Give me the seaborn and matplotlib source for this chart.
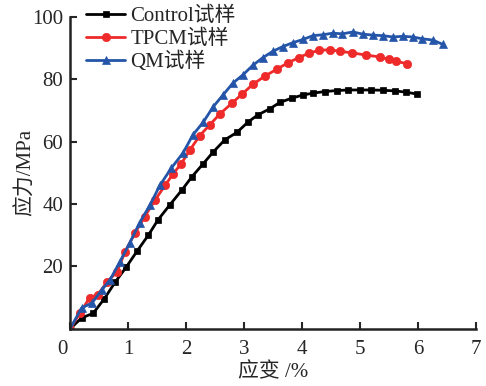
import matplotlib
matplotlib.use("Agg")
import matplotlib.pyplot as plt
import matplotlib.transforms as mtransforms
import seaborn as sns
import pandas as pd

control_x = [0, 0.2, 0.4, 0.59, 0.78, 0.97, 1.16, 1.35, 1.52, 1.72, 1.93, 2.1, 2.3, 2.47, 2.67, 2.88,
             3.07, 3.24, 3.45, 3.62, 3.83, 4.02, 4.2, 4.4, 4.6, 4.8, 5.0, 5.2, 5.4, 5.6, 5.8, 5.98]
control_y = [0, 3.5, 5, 9.6, 15, 19.8, 25, 30, 35, 39.7, 44.5, 48.7, 53, 56.7, 60.6, 63,
             66.3, 68.6, 70.6, 72.6, 74, 75, 75.6, 76.1, 76.4, 76.6, 76.6, 76.6, 76.5, 76.3, 75.9, 75.3]

tpcm_x = [0, 0.17, 0.34, 0.48, 0.64, 0.81, 0.95, 1.12, 1.29, 1.47, 1.64, 1.77, 1.92, 2.07, 2.24, 2.41,
          2.59, 2.79, 2.97, 3.16, 3.36, 3.57, 3.76, 3.95, 4.12, 4.3, 4.48, 4.65, 4.87, 5.1, 5.34, 5.5,
          5.63, 5.81]
tpcm_y = [0, 5, 10, 11, 15, 18.3, 24.7, 30.7, 36, 41.4, 46, 49.5, 53, 57.4, 62, 65.4,
          69, 72.3, 75.3, 78.5, 81, 83.3, 85.3, 87, 88.4, 89.3, 89.5, 89, 88.5, 87.8, 87.2, 86.4,
          85.8, 85.0]

qm_x = [0, 0.2, 0.38, 0.55, 0.69, 0.86, 1.03, 1.2, 1.38, 1.55, 1.75, 1.95, 2.12, 2.3, 2.47, 2.64,
        2.81, 2.98, 3.16, 3.33, 3.5, 3.67, 3.85, 4.02, 4.19, 4.36, 4.53, 4.7, 4.88, 5.05, 5.22, 5.4,
        5.57, 5.74, 5.91, 6.08, 6.26, 6.43]
qm_y = [0, 6.7, 8.3, 12.5, 15.7, 21.5, 27.5, 34, 39.7, 46, 51.6, 56.4, 62.2, 66.3, 71.2, 75,
        78.8, 81.4, 84.6, 87, 89, 90.5, 91.8, 92.8, 94, 94.3, 94.8, 94.6, 95.2, 94.5, 94.2, 94,
        93.6, 93.8, 93.6, 93.0, 92.6, 91.2]

labels = ["Control试样", "TPCM试样", "QM试样"]
x_ticks = [0, 1, 2, 3, 4, 5, 6, 7]
y_ticks = [20, 40, 60, 80, 100]

sns.set_style("ticks")
plt.rcParams['font.family'] = ['Liberation Serif', 'Noto Sans CJK SC']

fig = plt.figure(figsize=(4.86, 3.86), dpi=100)
ax = fig.add_axes([0.144, 0.148, 0.835, 0.808])

series = [
    (control_x, control_y, labels[0], "#000000", "s", 5.0),
    (tpcm_x, tpcm_y, labels[1], "#ee2a2a", "o", 6.0),
    (qm_x, qm_y, labels[2], "#2455a8", "^", 6.0),
]
for xs, ys, lab, col, mk, ms in series:
    df = pd.DataFrame({"x": xs, "y": ys})
    sns.lineplot(data=df, x="x", y="y", ax=ax, color=col, marker=mk, markersize=ms,
                 markeredgecolor=col, markeredgewidth=0.5, linewidth=2, label=lab,
                 sort=False, estimator=None)

ax.set_xlim(0, 7)
ax.set_ylim(0, 100)
ax.set_xticks(x_ticks)
ax.set_yticks(y_ticks)
ax.tick_params(direction="in", length=5, width=1.5, labelsize=15)
ax.tick_params(axis="x", pad=8)
ax.tick_params(axis="y", pad=5)
for s in ["left", "bottom"]:
    ax.spines[s].set_linewidth(1.8)
    ax.spines[s].set_color("#222222")
for s in ["top", "right"]:
    ax.spines[s].set_visible(False)
ax.set_xlabel("应变 /%", fontsize=15, labelpad=3)
ax.set_ylabel("应力/MPa", fontsize=15, labelpad=-3)

# shift the "0" x tick label slightly left as in the reference
off = mtransforms.ScaledTranslation(-8 / 100, 0, fig.dpi_scale_trans)
xl = ax.get_xticklabels()
xl[0].set_transform(xl[0].get_transform() + off)

leg = ax.legend(loc="upper left", bbox_to_anchor=(0.02, 1.06), frameon=False, fontsize=15,
                handlelength=1.85, handletextpad=0.25, labelspacing=0.15, borderaxespad=0)

fig.savefig("out.png", dpi=100)
